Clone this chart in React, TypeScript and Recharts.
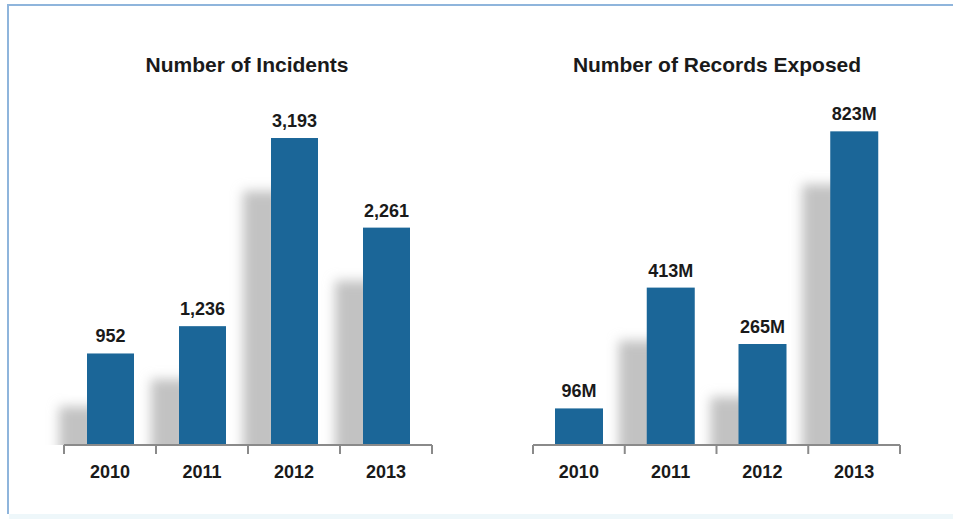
import React from 'react';
import { BarChart, Bar, XAxis, YAxis, LabelList } from 'recharts';

// values
const years = ['2010', '2011', '2012', '2013'];
const incidents = [952, 1236, 3193, 2261];
const recordsMillions = [96, 413, 265, 823];

const incidentsData = years.map((year, i) => ({ year, value: incidents[i] }));
const recordsData = years.map((year, i) => ({ year, value: recordsMillions[i] }));

const BAR_COLOR = '#1b6698';
const FONT = '"Liberation Sans", Arial, sans-serif';
const CHART_H = 500;

// bar with a soft grey drop shadow on its left side
const ShadowBar = (prefix: string) => (props: any) => {
  const { x, y, width, height, index } = props;
  const bottom = y + height;
  const shH = height - 53;
  const id = `${prefix}-${index}`;
  return (
    <g>
      <defs>
        <filter id={`blur-${id}`} x="-100%" y="-30%" width="300%" height="160%">
          <feGaussianBlur stdDeviation="6" />
        </filter>
        <clipPath id={`clip-${id}`}>
          <rect x={x - 60} y={0} width={60 + width} height={bottom} />
        </clipPath>
      </defs>
      {shH > 0 && (
        <g clipPath={`url(#clip-${id})`}>
          <rect
            x={x - 28}
            y={bottom - shH}
            width={40}
            height={shH + 20}
            fill="#c2c2c2"
            filter={`url(#blur-${id})`}
          />
        </g>
      )}
      <rect x={x} y={y} width={width} height={height} fill={BAR_COLOR} />
    </g>
  );
};

// year label at band centre, tick marks on band edges
const YearTick = (half: number, count: number) => (props: any) => {
  const { x, y, payload, index } = props;
  return (
    <g>
      <line x1={x - half} y1={y} x2={x - half} y2={y + 9} stroke="#8a8a8a" strokeWidth={2} />
      {index === count - 1 && (
        <line x1={x + half} y1={y} x2={x + half} y2={y + 9} stroke="#8a8a8a" strokeWidth={2} />
      )}
      <text x={x} y={y + 33} textAnchor="middle" fontFamily={FONT} fontWeight="bold" fontSize={18} fill="#1a1a1a">
        {payload.value}
      </text>
    </g>
  );
};

const titleStyle: React.CSSProperties = {
  position: 'absolute',
  top: 53,
  width: 400,
  textAlign: 'center',
  fontFamily: FONT,
  fontWeight: 'bold',
  fontSize: 21,
  lineHeight: '24px',
  color: '#1a1a1a',
};

export default function App() {
  return (
    <div style={{ position: 'absolute', left: 0, top: 0, width: 953, height: 519, background: '#fff', overflow: 'hidden' }}>
      {/* frame */}
      <div style={{ position: 'absolute', left: 7, top: 4, width: 946, height: 508, borderTop: '2px solid #8fb5dc', borderLeft: '2px solid #8fb5dc' }} />
      <div style={{ position: 'absolute', left: 9, top: 514, width: 944, height: 5, background: '#eef7fa' }} />

      <div style={{ ...titleStyle, left: 47 }}>Number of Incidents</div>
      <div style={{ ...titleStyle, left: 517 }}>Number of Records Exposed</div>

      <div style={{ position: 'absolute', left: 0, top: 0 }}>
        <BarChart
          width={480}
          height={CHART_H}
          data={incidentsData}
          margin={{ top: 108.5, right: 48, bottom: 15, left: 64 }}
          barSize={47}
        >
          <XAxis
            dataKey="year"
            height={40}
            tickSize={0}
            tickMargin={0}
            axisLine={{ stroke: '#8a8a8a', strokeWidth: 2 }}
            tick={YearTick(368 / 8, years.length)}
            interval={0}
          />
          <YAxis hide domain={[0, 3500]} />
          <Bar dataKey="value" isAnimationActive={false} shape={ShadowBar('inc')}>
            <LabelList
              dataKey="value"
              position="top"
              offset={11}
              formatter={(v: any) => Number(v).toLocaleString('en-US')}
              style={{ fontFamily: FONT, fontWeight: 'bold', fontSize: 18, fill: '#1a1a1a' }}
            />
          </Bar>
        </BarChart>
      </div>

      <div style={{ position: 'absolute', left: 480, top: 0 }}>
        <BarChart
          width={473}
          height={CHART_H}
          data={recordsData}
          margin={{ top: 102, right: 53, bottom: 15, left: 53 }}
          barSize={48}
        >
          <XAxis
            dataKey="year"
            height={40}
            tickSize={0}
            tickMargin={0}
            axisLine={{ stroke: '#8a8a8a', strokeWidth: 2 }}
            tick={YearTick(367 / 8, years.length)}
            interval={0}
          />
          <YAxis hide domain={[0, 900]} />
          <Bar dataKey="value" isAnimationActive={false} shape={ShadowBar('rec')}>
            <LabelList
              dataKey="value"
              position="top"
              offset={11}
              formatter={(v: any) => `${v}M`}
              style={{ fontFamily: FONT, fontWeight: 'bold', fontSize: 18, fill: '#1a1a1a' }}
            />
          </Bar>
        </BarChart>
      </div>
    </div>
  );
}
